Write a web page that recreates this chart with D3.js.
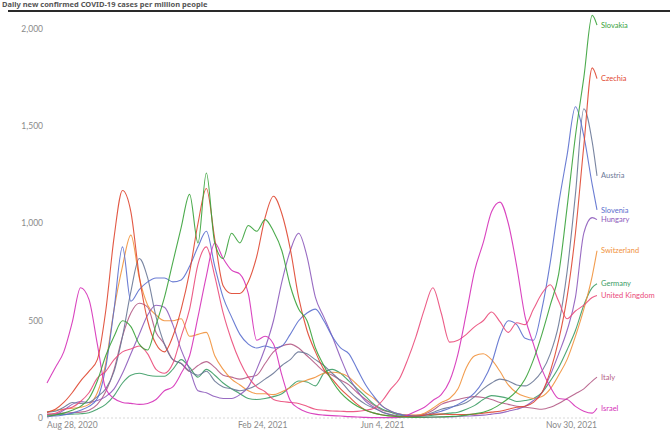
<!DOCTYPE html>
<html>
<head>
<meta charset="utf-8">
<script src="https://cdn.jsdelivr.net/npm/d3@7"></script>
<style>
  html, body { margin: 0; padding: 0; background: #fff; }
  svg { display: block; }
  .tick-label { font-family: Lato, "Noto Sans", sans-serif; font-size: 8.5px; fill: #8a8a8a; }
  .country-label { font-family: Lato, "Noto Sans", sans-serif; font-size: 7.5px; }
</style>
</head>
<body>
<div id="chart"></div>
<script>
// cases per million, 7-day average, one value per week from Aug 28, 2020, last value Nov 30, 2021
var startDay = "2020-08-28";
var endDay = "2021-11-30";

var slovakia = [10, 15, 25, 40, 60, 100, 190, 320, 420, 500, 470, 380, 350, 480, 620, 800, 980, 1150, 900, 1260,
    900, 820, 950, 900, 990, 960, 1020, 960, 860, 680, 560, 500, 360, 270, 190, 130, 90, 60, 40, 25,
    15, 10, 6, 4, 3, 4, 5, 6, 8, 10, 15, 22, 30, 45, 70, 100, 140, 200, 300, 430,
    580, 740, 1080, 1450, 1750, 2070, 2020];
var czechia = [30, 45, 80, 130, 190, 240, 300, 550, 930, 1170, 1060, 730, 500, 380, 340, 420, 560, 750, 1000, 1180,
    920, 680, 640, 640, 700, 830, 1030, 1140, 1050, 870, 620, 450, 340, 250, 200, 150, 110, 70, 40, 25,
    15, 10, 8, 8, 10, 15, 20, 20, 18, 18, 18, 20, 25, 30, 35, 45, 55, 60, 80, 130,
    240, 400, 620, 950, 1400, 1800, 1745];
var austria = [30, 35, 55, 80, 75, 80, 110, 150, 240, 420, 650, 820, 720, 520, 380, 300, 280, 240, 220, 240,
    190, 160, 150, 140, 150, 170, 200, 230, 270, 300, 340, 330, 300, 270, 230, 190, 140, 100, 70, 50,
    30, 18, 10, 9, 9, 14, 28, 45, 55, 65, 80, 110, 150, 180, 200, 190, 170, 165, 190, 240,
    330, 480, 750, 1150, 1590, 1420, 1245];
var slovenia = [10, 10, 15, 25, 40, 60, 100, 260, 560, 880, 600, 660, 700, 720, 720, 700, 710, 780, 880, 960,
    780, 620, 520, 430, 380, 360, 370, 360, 370, 430, 500, 540, 560, 500, 420, 360, 330, 250, 170, 110,
    60, 35, 20, 12, 10, 14, 22, 35, 50, 70, 95, 130, 190, 280, 420, 500, 480, 410, 400, 560,
    800, 1100, 1350, 1600, 1450, 1200, 1070];
var hungary = [5, 15, 40, 70, 85, 80, 90, 110, 150, 230, 330, 430, 530, 580, 570, 480, 350, 250, 140, 130,
    110, 100, 100, 120, 160, 250, 360, 500, 700, 860, 950, 830, 620, 520, 420, 310, 210, 140, 85, 55,
    30, 15, 8, 5, 4, 3, 4, 5, 6, 8, 10, 12, 15, 20, 25, 35, 45, 60, 90, 130,
    220, 330, 450, 620, 950, 1030, 1020];
var switzerland = [30, 40, 45, 50, 55, 70, 130, 280, 560, 780, 940, 720, 580, 530, 500, 500, 510, 420, 430, 440,
    320, 250, 200, 170, 140, 125, 125, 120, 135, 155, 180, 195, 210, 230, 235, 230, 210, 170, 130, 100,
    60, 35, 20, 15, 15, 25, 50, 80, 100, 150, 260, 320, 330, 300, 240, 170, 130, 110, 100, 110,
    150, 220, 300, 420, 560, 730, 860];
var germany = [17, 17, 18, 20, 22, 27, 45, 70, 115, 180, 220, 230, 220, 215, 215, 250, 300, 260, 210, 250,
    220, 180, 150, 125, 100, 95, 100, 110, 125, 160, 190, 185, 165, 230, 250, 230, 190, 150, 110, 70,
    45, 30, 15, 10, 8, 10, 15, 20, 25, 30, 45, 65, 95, 115, 110, 100, 85, 90, 100, 130,
    190, 260, 350, 450, 580, 670, 690];
var unitedKingdom = [18, 24, 45, 55, 85, 130, 205, 240, 300, 340, 355, 370, 330, 250, 230, 280, 420, 560, 790, 880,
    730, 540, 400, 290, 210, 160, 135, 95, 85, 80, 75, 60, 45, 40, 36, 35, 33, 34, 40, 50,
    90, 150, 200, 300, 420, 560, 670, 540, 390, 400, 430, 470, 500, 545, 495, 440, 490, 480, 560, 640,
    685, 600, 510, 550, 580, 620, 630];
var italy = [20, 22, 25, 28, 30, 40, 70, 135, 250, 420, 540, 590, 570, 440, 380, 300, 280, 240, 270, 290,
    260, 220, 210, 200, 210, 220, 280, 340, 370, 380, 360, 320, 280, 240, 220, 195, 170, 130, 95, 65,
    40, 30, 20, 15, 14, 20, 40, 70, 85, 95, 105, 110, 105, 95, 80, 70, 60, 55, 50, 45,
    55, 75, 100, 125, 150, 190, 210];
var israel = [180, 260, 340, 490, 670, 610, 380, 150, 100, 80, 75, 70, 75, 95, 140, 160, 230, 320, 520, 730,
    900, 820, 760, 740, 640, 400, 420, 380, 220, 90, 50, 30, 20, 15, 12, 10, 7, 5, 3, 2,
    2, 2, 3, 15, 35, 55, 90, 120, 190, 330, 540, 760, 900, 1060, 1110, 1000, 780, 520, 380, 250,
    160, 100, 95, 60, 35, 25, 50];

var countryNames = ["Slovakia", "Czechia", "Austria", "Slovenia", "Hungary", "Switzerland",
    "Germany", "United Kingdom", "Italy", "Israel"];
var countryValues = [slovakia, czechia, austria, slovenia, hungary, switzerland,
    germany, unitedKingdom, italy, israel];

var yTicks = [0, 500, 1000, 1500, 2000];
var xTickDays = ["2020-08-28", "2021-02-24", "2021-06-04", "2021-11-30"];
var xTickLabels = ["Aug 28, 2020", "Feb 24, 2021", "Jun 4, 2021", "Nov 30, 2021"];

// drawing order (back to front) and colours
var drawOrder = ["Italy", "Germany", "Switzerland", "Hungary", "Austria", "Slovenia",
    "United Kingdom", "Israel", "Czechia", "Slovakia"];
var colors = {
    "Slovakia": "#38a23a",
    "Czechia": "#df4630",
    "Austria": "#6a7897",
    "Slovenia": "#5b6fce",
    "Hungary": "#8d5bbb",
    "Switzerland": "#f1923c",
    "Germany": "#3d9d66",
    "United Kingdom": "#ea4b7a",
    "Italy": "#b45b86",
    "Israel": "#d530b8"
};

function drawChart() {
    "use strict";
    var width = 670;
    var height = 435;
    var parse = d3.timeParse("%Y-%m-%d");
    var start = parse(startDay);
    var end = parse(endDay);

    // weekly dates plus the final day
    var dates = d3.range(slovakia.length - 1).map(function(i) {
        return d3.timeDay.offset(start, 7 * i);
    });
    dates.push(end);

    var x = d3.scaleTime().domain([start, end]).range([47, 597]);
    var y = d3.scaleLinear().domain([0, 2000]).range([418, 29]);

    var svg = d3.select("#chart")
        .append("svg")
        .attr("width", width)
        .attr("height", height);

    // small headline strip and rule at the top
    svg.append("text")
        .attr("x", 2)
        .attr("y", 7)
        .style("font-family", "'Noto Sans', sans-serif")
        .style("font-size", "7.5px")
        .style("font-weight", "bold")
        .style("fill", "#555")
        .text("Daily new confirmed COVID-19 cases per million people");
    svg.append("line")
        .attr("x1", 8).attr("x2", width)
        .attr("y1", 11).attr("y2", 11)
        .style("stroke", "#2a2a2a")
        .style("stroke-width", 2);

    // baseline
    svg.append("line")
        .attr("x1", x(start)).attr("x2", x(end))
        .attr("y1", y(0)).attr("y2", y(0))
        .style("stroke", "#d8d8d8")
        .style("stroke-dasharray", "2,2");

    // y tick labels
    svg.selectAll("text.ytick")
        .data(yTicks)
        .enter()
        .append("text")
        .attr("class", "tick-label ytick")
        .attr("x", 43)
        .attr("y", function(d) { return y(d); })
        .attr("dy", "0.35em")
        .attr("text-anchor", "end")
        .text(d3.format(","));

    // x tick labels: first and last aligned to the plot edges
    svg.selectAll("text.xtick")
        .data(xTickDays)
        .enter()
        .append("text")
        .attr("class", "tick-label xtick")
        .attr("x", function(d) { return x(parse(d)); })
        .attr("y", 428)
        .attr("text-anchor", function(d, i) {
            if (i === 0) { return "start"; }
            return i === xTickDays.length - 1 ? "end" : "middle";
        })
        .text(function(d, i) { return xTickLabels[i]; });

    var series = countryNames.map(function(name, i) {
        return {
            name: name,
            points: countryValues[i].map(function(v, j) {
                return { date: dates[j], value: v };
            })
        };
    });
    series.sort(function(a, b) {
        return drawOrder.indexOf(a.name) - drawOrder.indexOf(b.name);
    });

    var line = d3.line()
        .curve(d3.curveMonotoneX)
        .x(function(d) { return x(d.date); })
        .y(function(d) { return y(d.value); });

    svg.append("g")
        .selectAll("path")
        .data(series)
        .enter()
        .append("path")
        .attr("d", function(d) { return line(d.points); })
        .style("fill", "none")
        .style("stroke", function(d) { return colors[d.name]; })
        .style("stroke-width", 1.1)
        .style("stroke-linejoin", "round")
        .style("opacity", 0.9);

    // end labels, pushed apart when they would overlap
    var labels = series.map(function(s) {
        var last = s.points[s.points.length - 1];
        return { name: s.name, ly: y(last.value) };
    }).sort(function(a, b) { return a.ly - b.ly; });
    for (var i = 1; i < labels.length; i++) {
        if (labels[i].ly - labels[i - 1].ly < 9) {
            labels[i].ly = labels[i - 1].ly + 9;
        }
    }

    svg.selectAll("text.country-label")
        .data(labels)
        .enter()
        .append("text")
        .attr("class", "country-label")
        .attr("x", x(end) + 4)
        .attr("y", function(d) { return d.ly; })
        .attr("dy", "0.35em")
        .style("fill", function(d) { return colors[d.name]; })
        .text(function(d) { return d.name; });
}

drawChart();
</script>
</body>
</html>
